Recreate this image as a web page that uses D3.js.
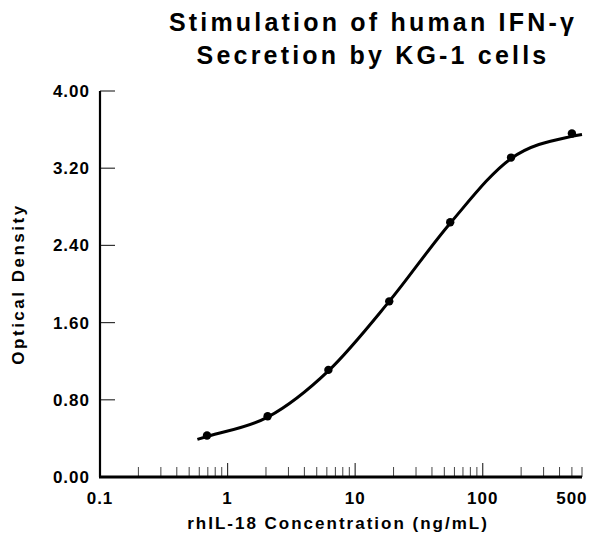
<!DOCTYPE html>
<html>
<head>
<meta charset="utf-8">
<script src="https://cdn.jsdelivr.net/npm/d3@7"></script>
<style>
body { margin: 0; background: #fff; }
text { font-family: "Liberation Sans", Arial, sans-serif; font-weight: bold; fill: #000; }
</style>
</head>
<body>
<div id="chart"></div>
<script>
// measured points (rhIL-18 ng/mL vs OD)
const concentrations = [0.69, 2.06, 6.17, 18.5, 55.6, 166.7, 500];
const opticalDensity = [0.43, 0.63, 1.11, 1.82, 2.64, 3.31, 3.56];
// fitted line
const fitConc = [0.58, 0.69, 2.06, 6.17, 18.5, 55.6, 166.7, 500, 600];
const fitOD = [0.39, 0.42, 0.62, 1.10, 1.82, 2.63, 3.30, 3.53, 3.55];
const yTicks = [0, 0.8, 1.6, 2.4, 3.2, 4.0];
const xMajor = [0.1, 1, 10, 100];
const xLabels = [0.1, 1, 10, 100, 500];
const titleLines = ["Stimulation of human IFN-γ", "Secretion by KG-1 cells"];

const width = 589, height = 546;
const margin = {left: 100, right: 7, top: 91, bottom: 69};

const svg = d3.select("#chart").append("svg")
    .attr("width", width)
    .attr("height", height);

const x = d3.scaleLog()
    .domain([0.1, 600])
    .range([margin.left, width - margin.right]);
const y = d3.scaleLinear()
    .domain([0, 4])
    .range([height - margin.bottom, margin.top]);

// minor ticks every 1..9 per decade
const xMinor = [];
[0.1, 1, 10, 100].forEach(d => {
    for (let k = 2; k <= 9; k++) if (d * k <= 600) xMinor.push(d * k);
});

const gx = svg.append("g");
gx.selectAll("line.minor")
    .data(xMinor)
    .enter().append("line")
    .attr("x1", d => x(d)).attr("x2", d => x(d))
    .attr("y1", y(0)).attr("y2", y(0) - 10)
    .attr("stroke", "#444").attr("stroke-width", 1);
gx.selectAll("line.major")
    .data(xMajor)
    .enter().append("line")
    .attr("x1", d => x(d)).attr("x2", d => x(d))
    .attr("y1", y(0)).attr("y2", y(0) - 14)
    .attr("stroke", "#333").attr("stroke-width", 1.2);
gx.selectAll("text")
    .data(xLabels)
    .enter().append("text")
    .attr("x", d => x(d))
    .attr("y", y(0) + 27)
    .attr("text-anchor", "middle")
    .attr("font-size", 17)
    .style("letter-spacing", "1px")
    .text(d => d);

const gy = svg.append("g");
gy.selectAll("line")
    .data(yTicks)
    .enter().append("line")
    .attr("x1", x(0.1)).attr("x2", x(0.1) + 15)
    .attr("y1", d => y(d)).attr("y2", d => y(d))
    .attr("stroke", "#333").attr("stroke-width", 1.2);
gy.selectAll("text")
    .data(yTicks)
    .enter().append("text")
    .attr("x", x(0.1) - 10)
    .attr("y", d => y(d) + 6)
    .attr("text-anchor", "end")
    .attr("font-size", 17)
    .style("letter-spacing", "1px")
    .text(d => d3.format(".2f")(d));

// axis lines
svg.append("line")
    .attr("x1", x(0.1)).attr("x2", x(0.1))
    .attr("y1", y(4)).attr("y2", y(0))
    .attr("stroke", "#000").attr("stroke-width", 2.2);
svg.append("line")
    .attr("x1", x(0.1) - 1).attr("x2", x(600))
    .attr("y1", y(0)).attr("y2", y(0))
    .attr("stroke", "#000").attr("stroke-width", 3);

// fitted curve
const fit = fitConc.map((c, i) => ({c: c, od: fitOD[i]}));
svg.append("path")
    .datum(fit)
    .attr("fill", "none")
    .attr("stroke", "#000")
    .attr("stroke-width", 3)
    .attr("d", d3.line()
        .x(d => x(d.c))
        .y(d => y(d.od))
        .curve(d3.curveMonotoneX));

// data points
const pts = concentrations.map((c, i) => ({c: c, od: opticalDensity[i]}));
svg.append("g")
    .selectAll("circle")
    .data(pts)
    .enter().append("circle")
    .attr("cx", d => x(d.c))
    .attr("cy", d => y(d.od))
    .attr("r", 4.2)
    .attr("fill", "#000");

// titles
svg.append("g")
    .selectAll("text")
    .data(titleLines)
    .enter().append("text")
    .attr("x", 373)
    .attr("y", (d, i) => 31 + i * 33)
    .attr("text-anchor", "middle")
    .attr("font-size", 25)
    .style("letter-spacing", "3.2px")
    .text(d => d);

svg.append("text")
    .attr("x", 338)
    .attr("y", 529)
    .attr("text-anchor", "middle")
    .attr("font-size", 17)
    .style("letter-spacing", "2px")
    .text("rhIL-18 Concentration (ng/mL)");

svg.append("text")
    .attr("transform", `translate(24, ${(y(0) + y(4)) / 2}) rotate(-90)`)
    .attr("text-anchor", "middle")
    .attr("font-size", 17)
    .style("letter-spacing", "2.5px")
    .text("Optical Density");
</script>
</body>
</html>
